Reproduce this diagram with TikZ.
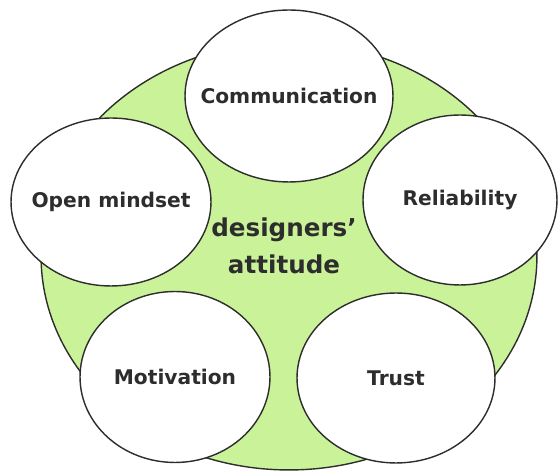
\documentclass[tikz,border=0pt]{standalone}
\usepackage{fontspec}
\setmainfont{DejaVu Sans}
\usetikzlibrary{shapes.geometric}

\definecolor{attgreen}{RGB}{202,243,153}
\definecolor{inkgray}{RGB}{45,45,45}

\begin{document}
\begin{tikzpicture}[x=0.02cm, y=-0.02cm,
    trait/.style={draw=inkgray, line width=0.8pt, fill=white, ellipse, inner sep=0pt},
    every label/.style={font=\bfseries\fontsize{11.5}{13}\selectfont, text=inkgray}]
  \useasboundingbox (0,0) rectangle (559,472);
  % the green body
  \node[draw=inkgray, line width=0.8pt, fill=attgreen, ellipse, inner sep=0pt,
        minimum width=9.92cm, minimum height=8.56cm] (core) at (289,256) {};
  % the five traits
  \node[trait, minimum width=4.16cm, minimum height=3.44cm, label=center:Communication] (comm) at (289,96) {};
  \node[trait, minimum width=4.0cm, minimum height=3.36cm, label=center:Open mindset] (open) at (111,202) {};
  \node[trait, minimum width=3.88cm, minimum height=3.4cm, label=center:Reliability] (reli) at (460,200) {};
  \node[trait, minimum width=3.8cm, minimum height=3.42cm, label=center:Motivation] (moti) at (175,377) {};
  \node[trait, minimum width=3.96cm, minimum height=3.4cm, label=center:Trust] (trust) at (396,378) {};
  \node[font=\bfseries\fontsize{14}{21}\selectfont, text=inkgray, align=center] (att) at (284,246) {designers’\\attitude};
\end{tikzpicture}
\end{document}
